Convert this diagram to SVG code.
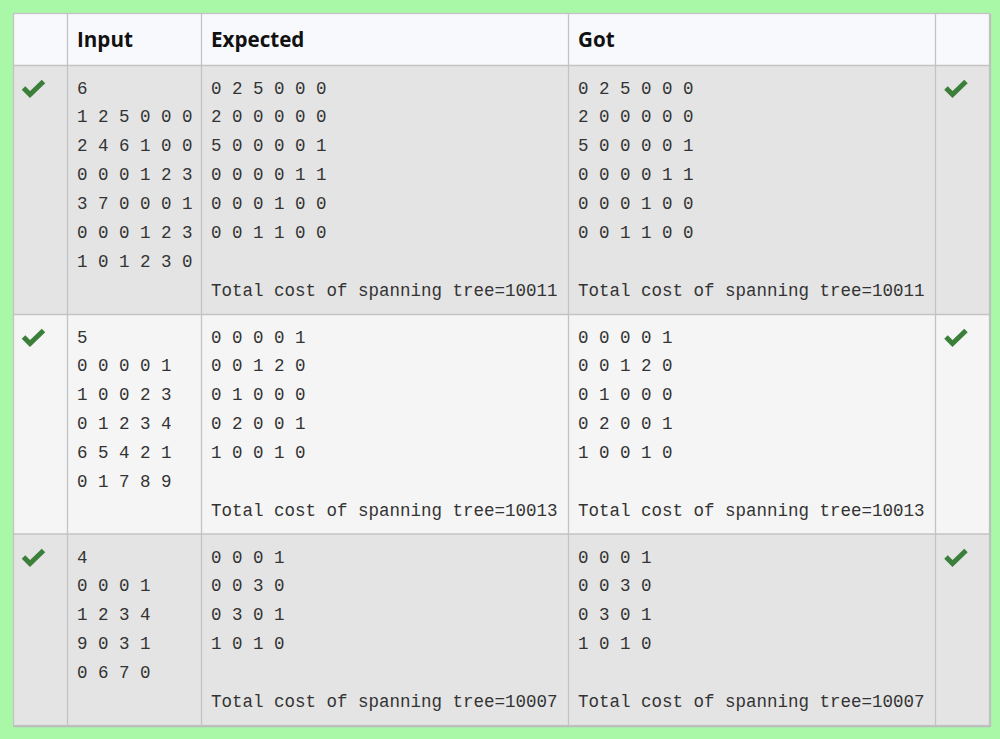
<svg xmlns="http://www.w3.org/2000/svg" width="1000" height="739" viewBox="0 0 1000 739">
<style>
.hd{font-family:"Open Sans","Noto Sans",sans-serif;font-weight:700;font-size:20.6px;fill:#111}
.mono{font-family:"Liberation Mono","DejaVu Sans Mono",monospace;font-size:17.5px;fill:#333}
.grid{stroke:#c3c3c3;stroke-width:1.3;fill:none}
.chk{fill:none;stroke:#3b7f3b;stroke-width:5;stroke-linecap:butt;stroke-linejoin:miter}
</style>
<defs>
<path id="check" d="M-10,0 L-3.5,6.5 L10,-6.5" class="chk"/>
</defs>
<rect x="0" y="0" width="1000" height="739" fill="#a8f8a8"/>
<g id="table-bg">
<rect x="13.5" y="13.5" width="976" height="712" fill="#e4e4e4"/>
<rect x="13.5" y="13.5" width="976" height="52" fill="#f8f9fd"/>
<rect x="13.5" y="314.5" width="976" height="219.5" fill="#f5f5f5"/>
</g>
<g id="grid">
<rect x="13.5" y="13.5" width="976" height="712" class="grid"/>
<line x1="13.5" y1="726.5" x2="990" y2="726.5" stroke="#bdbdbd" stroke-width="1.5"/>
<line x1="990.5" y1="14" x2="990.5" y2="727" stroke="#bdbdbd" stroke-width="1.2"/>
<line x1="67.5" y1="13.5" x2="67.5" y2="725.5" class="grid"/>
<line x1="201.5" y1="13.5" x2="201.5" y2="725.5" class="grid"/>
<line x1="568.5" y1="13.5" x2="568.5" y2="725.5" class="grid"/>
<line x1="935.5" y1="13.5" x2="935.5" y2="725.5" class="grid"/>
<line x1="13.5" y1="65.5" x2="989.5" y2="65.5" class="grid"/>
<line x1="13.5" y1="314.5" x2="989.5" y2="314.5" class="grid"/>
<line x1="13.5" y1="534" x2="989.5" y2="534" class="grid"/>
</g>
<g id="header">
<text class="hd" x="77" y="47">Input</text>
<text class="hd" x="211" y="47">Expected</text>
<text class="hd" x="578" y="47">Got</text>
</g>
<g id="row1">
<use href="#check" x="33.5" y="88"/>
<use href="#check" x="956" y="88"/>
<text class="mono" x="77" y="93.5"><tspan x="77">6</tspan><tspan x="77" dy="28.86">1 2 5 0 0 0</tspan><tspan x="77" dy="28.86">2 4 6 1 0 0</tspan><tspan x="77" dy="28.86">0 0 0 1 2 3</tspan><tspan x="77" dy="28.86">3 7 0 0 0 1</tspan><tspan x="77" dy="28.86">0 0 0 1 2 3</tspan><tspan x="77" dy="28.86">1 0 1 2 3 0</tspan></text>
<text class="mono" x="211" y="93.5"><tspan x="211">0 2 5 0 0 0</tspan><tspan x="211" dy="28.86">2 0 0 0 0 0</tspan><tspan x="211" dy="28.86">5 0 0 0 0 1</tspan><tspan x="211" dy="28.86">0 0 0 0 1 1</tspan><tspan x="211" dy="28.86">0 0 0 1 0 0</tspan><tspan x="211" dy="28.86">0 0 1 1 0 0</tspan><tspan x="211" dy="57.72">Total cost of spanning tree=10011</tspan></text>
<text class="mono" x="578" y="93.5"><tspan x="578">0 2 5 0 0 0</tspan><tspan x="578" dy="28.86">2 0 0 0 0 0</tspan><tspan x="578" dy="28.86">5 0 0 0 0 1</tspan><tspan x="578" dy="28.86">0 0 0 0 1 1</tspan><tspan x="578" dy="28.86">0 0 0 1 0 0</tspan><tspan x="578" dy="28.86">0 0 1 1 0 0</tspan><tspan x="578" dy="57.72">Total cost of spanning tree=10011</tspan></text>
</g>
<g id="row2">
<use href="#check" x="33.5" y="337"/>
<use href="#check" x="956" y="337"/>
<text class="mono" x="77" y="342.5"><tspan x="77">5</tspan><tspan x="77" dy="28.86">0 0 0 0 1</tspan><tspan x="77" dy="28.86">1 0 0 2 3</tspan><tspan x="77" dy="28.86">0 1 2 3 4</tspan><tspan x="77" dy="28.86">6 5 4 2 1</tspan><tspan x="77" dy="28.86">0 1 7 8 9</tspan></text>
<text class="mono" x="211" y="342.5"><tspan x="211">0 0 0 0 1</tspan><tspan x="211" dy="28.86">0 0 1 2 0</tspan><tspan x="211" dy="28.86">0 1 0 0 0</tspan><tspan x="211" dy="28.86">0 2 0 0 1</tspan><tspan x="211" dy="28.86">1 0 0 1 0</tspan><tspan x="211" dy="57.72">Total cost of spanning tree=10013</tspan></text>
<text class="mono" x="578" y="342.5"><tspan x="578">0 0 0 0 1</tspan><tspan x="578" dy="28.86">0 0 1 2 0</tspan><tspan x="578" dy="28.86">0 1 0 0 0</tspan><tspan x="578" dy="28.86">0 2 0 0 1</tspan><tspan x="578" dy="28.86">1 0 0 1 0</tspan><tspan x="578" dy="57.72">Total cost of spanning tree=10013</tspan></text>
</g>
<g id="row3">
<use href="#check" x="33.5" y="557"/>
<use href="#check" x="956" y="557"/>
<text class="mono" x="77" y="562.5"><tspan x="77">4</tspan><tspan x="77" dy="28.86">0 0 0 1</tspan><tspan x="77" dy="28.86">1 2 3 4</tspan><tspan x="77" dy="28.86">9 0 3 1</tspan><tspan x="77" dy="28.86">0 6 7 0</tspan></text>
<text class="mono" x="211" y="562.5"><tspan x="211">0 0 0 1</tspan><tspan x="211" dy="28.86">0 0 3 0</tspan><tspan x="211" dy="28.86">0 3 0 1</tspan><tspan x="211" dy="28.86">1 0 1 0</tspan><tspan x="211" dy="57.72">Total cost of spanning tree=10007</tspan></text>
<text class="mono" x="578" y="562.5"><tspan x="578">0 0 0 1</tspan><tspan x="578" dy="28.86">0 0 3 0</tspan><tspan x="578" dy="28.86">0 3 0 1</tspan><tspan x="578" dy="28.86">1 0 1 0</tspan><tspan x="578" dy="57.72">Total cost of spanning tree=10007</tspan></text>
</g>
</svg>
